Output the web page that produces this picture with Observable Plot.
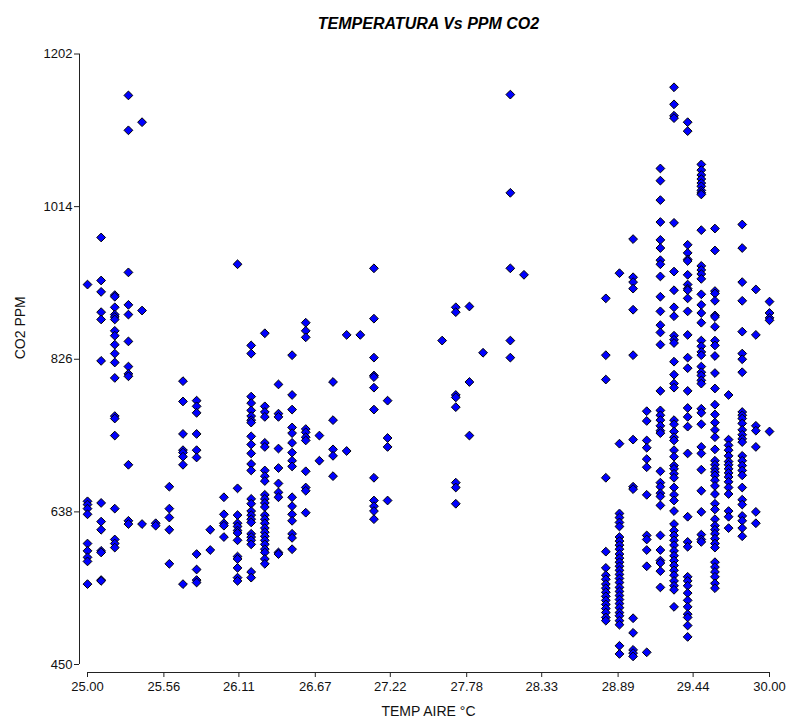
<!DOCTYPE html>
<html><head><meta charset="utf-8">
<script src="https://cdn.jsdelivr.net/npm/d3@7"></script>
<script src="https://cdn.jsdelivr.net/npm/@observablehq/plot@0.6"></script>
<style>body{margin:0;background:#fff;} #chart svg{display:block;}</style>
</head><body><div id="chart"></div>
<script>
// CO2 ppm readings per air temperature (°C) column
const c250 = [918, 651, 647, 642, 635, 599, 590, 582, 577, 549];
const c251 = [976, 923, 909, 884, 875, 824, 649, 626, 616, 590, 588, 554, 553];
const c252 = [905, 903, 890, 881, 878, 875, 861, 855, 844, 833, 822, 803, 756, 753, 732, 642, 604, 599, 594];
const c253 = [1151, 1108, 933, 893, 881, 848, 817, 808, 805, 696, 627, 623];
const c254 = [1118, 886, 623];
const c255 = [624, 621];
const c256 = [669, 642, 631, 616, 574];
const c257 = [799, 774, 734, 714, 711, 706, 696, 549];
const c258 = [775, 768, 760, 734, 714, 705, 586, 567, 554, 551];
const c259 = [616, 591];
const c260 = [656, 635, 624, 621, 607];
const c261 = [943, 667, 634, 624, 620, 615, 612, 603, 583, 580, 569, 557, 553];
const c262 = [843, 833, 780, 772, 763, 756, 751, 748, 731, 721, 710, 697, 689, 654, 648, 639, 634, 629, 625, 611, 607, 603, 598, 564, 557];
const c263 = [858, 768, 761, 755, 723, 718, 689, 682, 676, 659, 654, 649, 644, 634, 629, 624, 618, 613, 608, 603, 598, 592, 588, 580, 574];
const c264 = [795, 759, 755, 716, 692, 673, 662, 656, 588, 586];
const c265 = [831, 782, 764, 742, 735, 723, 711, 701, 694, 656, 645, 635, 627, 611, 606, 592];
const c266 = [871, 861, 853, 740, 736, 730, 726, 688, 668, 664, 637];
const c267 = [732, 701];
const c268 = [798, 751, 715, 707, 682];
const c269 = [856, 713];
const c270 = [856];
const c271 = [938, 876, 828, 806, 804, 791, 764, 680, 652, 645, 639, 629];
const c272 = [775, 729, 718, 652];
const c276 = [849];
const c277 = [890, 884, 782, 779, 767, 674, 668, 648];
const c278 = [891, 798, 732];
const c279 = [834];
const c281 = [1152, 1031, 938, 849, 828];
const c282 = [930];
const c288 = [901, 831, 801, 680, 589, 569, 560, 555, 549, 544, 539, 534, 529, 524, 519, 514, 508, 504];
const c289 = [932, 722, 636, 631, 625, 620, 607, 602, 597, 592, 586, 581, 576, 571, 566, 561, 556, 551, 545, 540, 535, 530, 525, 520, 514, 510, 504, 499, 473, 463];
const c290 = [974, 927, 921, 913, 887, 831, 727, 669, 666, 507, 489, 468, 464, 460];
const c291 = [762, 750, 726, 717, 703, 693, 659, 609, 604, 591, 571, 465];
const c292 = [1061, 1046, 1022, 995, 973, 963, 948, 943, 928, 903, 885, 868, 859, 844, 787, 763, 757, 751, 744, 738, 735, 688, 674, 669, 661, 657, 646, 609, 591, 578, 575, 565, 545];
const c293 = [1161, 1140, 1126, 1123, 994, 934, 911, 890, 879, 855, 850, 846, 823, 807, 796, 791, 751, 746, 737, 730, 726, 714, 706, 695, 691, 685, 680, 668, 659, 652, 639, 623, 615, 609, 603, 597, 590, 584, 578, 572, 566, 560, 553, 547, 542, 521];
const c294 = [1118, 1107, 967, 957, 949, 947, 930, 918, 913, 911, 901, 885, 856, 828, 815, 787, 766, 755, 743, 710, 632, 601, 595, 558, 553, 547, 538, 529, 521, 512, 508, 498, 484];
const c295 = [1066, 1059, 1053, 1048, 1043, 1039, 1034, 1031, 1029, 985, 941, 936, 931, 925, 906, 893, 883, 871, 849, 842, 835, 831, 817, 810, 806, 800, 796, 765, 760, 746, 718, 710, 690, 664, 638, 610, 604, 601];
const c296 = [987, 960, 910, 907, 898, 880, 878, 866, 849, 843, 830, 809, 790, 770, 758, 748, 739, 730, 715, 701, 696, 691, 687, 683, 677, 670, 660, 648, 641, 629, 621, 616, 611, 605, 599, 594, 576, 570, 564, 558, 550, 544];
const c297 = [782, 727, 720, 714, 707, 700, 696, 691, 686, 681, 675, 668, 660, 639, 632, 618];
const c298 = [992, 963, 921, 898, 860, 833, 826, 810, 761, 757, 753, 747, 739, 733, 728, 724, 707, 701, 695, 689, 683, 668, 653, 647, 633, 627, 618, 608];
const c299 = [912, 856, 744, 738, 718, 638, 624];
const c300 = [897, 883, 877, 874, 737];

const temps = [25.0, 25.1, 25.2, 25.3, 25.4, 25.5, 25.6, 25.7, 25.8, 25.9, 26.0, 26.1, 26.2, 26.3, 26.4, 26.5, 26.6, 26.7, 26.8, 26.9, 27.0, 27.1, 27.2, 27.6, 27.7, 27.8, 27.9, 28.1, 28.2, 28.8, 28.9, 29.0, 29.1, 29.2, 29.3, 29.4, 29.5, 29.6, 29.7, 29.8, 29.9, 30.0];
const series = [c250, c251, c252, c253, c254, c255, c256, c257, c258, c259, c260, c261, c262, c263, c264, c265, c266, c267, c268, c269, c270, c271, c272, c276, c277, c278, c279, c281, c282, c288, c289, c290, c291, c292, c293, c294, c295, c296, c297, c298, c299, c300];

const xTickLabels = ["25.00", "25.56", "26.11", "26.67", "27.22", "27.78", "28.33", "28.89", "29.44", "30.00"];
const yTicks = [450, 638, 826, 1014, 1202];
const xDomain = [25, 30];
const yDomain = [450, 1202];

const titleText = "TEMPERATURA Vs PPM CO2";
const xLabel = "TEMP AIRE °C";
const yLabel = "CO2 PPM";

const data = temps.flatMap((t, i) => series[i].map(p => ({t, p})));
const xTicks = xTickLabels.map(Number);

const diamond = {
  draw(ctx, size) {
    const s = Math.sqrt(size / Math.PI);
    ctx.moveTo(0, -s); ctx.lineTo(s, 0); ctx.lineTo(0, s); ctx.lineTo(-s, 0); ctx.closePath();
  }
};

const font = "'Liberation Sans', Arial, sans-serif";
const axisColor = "#222";

const chart = Plot.plot({
  width: 789,
  height: 720,
  marginLeft: 87,
  marginRight: 20,
  marginTop: 53.5,
  marginBottom: 56,
  style: {fontFamily: font, fontSize: "13px", background: "#fff", color: "#111"},
  x: {domain: xDomain},
  y: {domain: yDomain},
  marks: [
    Plot.ruleX([xDomain[0]], {y1: yDomain[0], y2: yDomain[1], dx: -8, stroke: axisColor}),
    Plot.ruleY([yDomain[0]], {x1: xDomain[0], x2: xDomain[1], dy: 8, stroke: axisColor}),
    Plot.axisY(yTicks, {anchor: "left", tickSize: 5, tickPadding: 2, dx: -8, label: null, fontSize: 13, stroke: axisColor, tickFormat: d => String(d)}),
    Plot.axisX(xTicks, {anchor: "bottom", tickSize: 5, tickPadding: 4, dy: 8, label: null, fontSize: 13, stroke: axisColor, tickFormat: (d, i) => xTickLabels[i]}),
    Plot.dot(data, {x: "t", y: "p", symbol: diamond, r: 4.4, fill: "#0000ff", stroke: "#000", strokeWidth: 1}),
    Plot.text([titleText], {frameAnchor: "top", dy: -36.5, fontSize: 16, fontWeight: "bold", fontStyle: "italic", fill: "#000"}),
    Plot.text([xLabel], {frameAnchor: "bottom", dy: 51, fontSize: 14, fill: "#111"}),
    Plot.text([yLabel], {frameAnchor: "left", dx: -67, rotate: -90, fontSize: 14, fill: "#111"})
  ]
});
document.getElementById("chart").appendChild(chart);
</script>
</body></html>
